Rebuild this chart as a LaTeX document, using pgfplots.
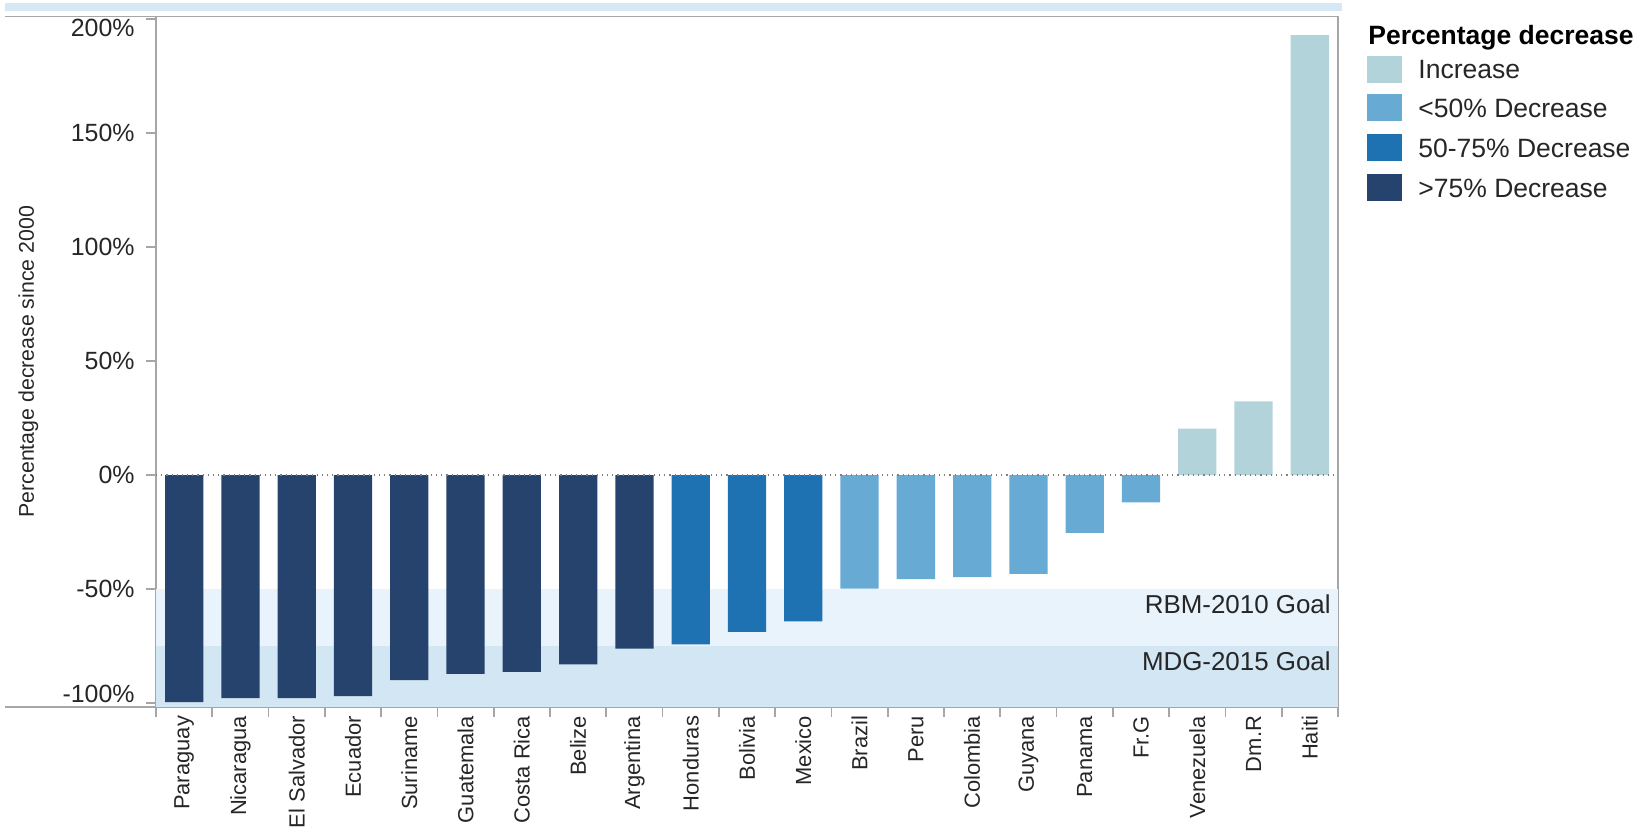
\documentclass[border=0pt]{standalone}
\usepackage{fontspec}
\setmainfont{Liberation Sans}
\usepackage{pgfplots}
\pgfplotsset{compat=1.18}

\definecolor{incr}{HTML}{B3D3DA}
\definecolor{lt50}{HTML}{67AAD4}
\definecolor{mid}{HTML}{1E72B2}
\definecolor{gt75}{HTML}{25436C}
\definecolor{rbm}{HTML}{E9F3FB}
\definecolor{mdg}{HTML}{D3E6F4}
\definecolor{head}{HTML}{D5E8F4}
\definecolor{axgray}{HTML}{A6A6A6}
\definecolor{txt}{HTML}{262626}

\begin{document}
\begin{tikzpicture}
\path[use as bounding box] (0,0) rectangle (825bp,415bp);
% strip of the cut-off header
\fill[head] (2.5bp,409.5bp) rectangle (671bp,413.5bp);
\draw[axgray, line width=0.8bp] (2.5bp,406.75bp) -- (78bp,406.75bp);
\draw[axgray, line width=0.8bp] (2.5bp,61.5bp) -- (78bp,61.5bp);

\begin{axis}[
  at={(78bp,61.5bp)}, anchor=south west,
  scale only axis, width=591bp, height=345.25bp,
  xmin=-0.5, xmax=20.5, ymin=-101.8, ymax=201.2,
  axis line style={draw=axgray, line width=0.8bp},
  tick pos=left, tick align=outside,
  major tick length=0pt, minor tick length=5bp,
  minor tick style={draw=axgray, line width=0.8bp},
  xtick={0,...,20},
  xticklabels={Paraguay,Nicaragua,El Salvador,Ecuador,Suriname,Guatemala,Costa Rica,Belize,Argentina,Honduras,Bolivia,Mexico,Brazil,Peru,Colombia,Guyana,Panama,Fr.G,Venezuela,Dm.R,Haiti},
  minor xtick={-0.5,0.5,...,20.5},
  x tick label style={rotate=90, anchor=east, inner sep=0pt, text=txt,
    font=\fontsize{11}{13}\selectfont},
  xticklabel shift=4.3bp,
  ytick={-100,-50,...,200},
  minor ytick={-100,-50,...,200},
  % the end labels sit a little inside the axis, as in the original
  yticklabel={\ifcase\ticknum
      \raisebox{4.5bp}[\height][\depth]{\pgfmathprintnumber{\tick}\%}%
    \or\pgfmathprintnumber{\tick}\%%
    \or\pgfmathprintnumber{\tick}\%%
    \or\pgfmathprintnumber{\tick}\%%
    \or\pgfmathprintnumber{\tick}\%%
    \or\pgfmathprintnumber{\tick}\%%
    \else\raisebox{-4.2bp}[\height][\depth]{\pgfmathprintnumber{\tick}\%}\fi},
  /pgf/number format/assume math mode=true,
  y tick label style={inner sep=0pt, text=txt, font=\fontsize{12.5}{14}\selectfont},
  yticklabel shift=10.5bp,
  ylabel={Percentage decrease since 2000},
  ylabel style={at={(axis description cs:-0.1079,0.5)}, anchor=center, text=txt,
    font=\fontsize{10.7}{12}\selectfont},
]
% goal bands
\fill[mdg] (axis cs:-0.5,-101.8) rectangle (axis cs:20.5,-75);
\fill[rbm] (axis cs:-0.5,-75) rectangle (axis cs:20.5,-50);
\node[anchor=east, inner sep=0pt, xshift=-3.5bp, text=txt, font=\fontsize{13}{15}\selectfont]
  at (axis cs:20.5,-56.6) {RBM-2010 Goal};
\node[anchor=east, inner sep=0pt, xshift=-3.5bp, text=txt, font=\fontsize{13}{15}\selectfont]
  at (axis cs:20.5,-81.6) {MDG-2015 Goal};

% >75% decrease
\addplot[ybar, bar width=0.68, bar shift=0pt, fill=gt75, draw=none]
  coordinates {(0,-99.7)(1,-97.9)(2,-97.9)(3,-97.0)(4,-90.0)(5,-87.3)(6,-86.4)(7,-83.1)(8,-76.2)};
% 50-75% decrease
\addplot[ybar, bar width=0.68, bar shift=0pt, fill=mid, draw=none]
  coordinates {(9,-74.3)(10,-68.8)(11,-64.2)};
% <50% decrease
\addplot[ybar, bar width=0.68, bar shift=0pt, fill=lt50, draw=none]
  coordinates {(12,-49.9)(13,-45.7)(14,-44.8)(15,-43.4)(16,-25.4)(17,-12.0)};
% increase
\addplot[ybar, bar width=0.68, bar shift=0pt, fill=incr, draw=none]
  coordinates {(18,20.3)(19,32.3)(20,193.0)};

\draw[gray, dotted, line width=0.6bp] (axis cs:-0.5,0) -- (axis cs:20.5,0);
\end{axis}

% legend
\node[anchor=west, inner sep=0pt, text=black, font=\bfseries\fontsize{13.3}{15}\selectfont]
  at (684bp,396bp) {Percentage decrease};
\fill[incr] (683.5bp,373.25bp) rectangle (701bp,386.75bp);
\fill[lt50] (683.5bp,354.25bp) rectangle (701bp,367.75bp);
\fill[mid]  (683.5bp,334.25bp) rectangle (701bp,347.75bp);
\fill[gt75] (683.5bp,314.25bp) rectangle (701bp,327.75bp);
\node[anchor=west, inner sep=0pt, text=txt, font=\fontsize{13.3}{15}\selectfont] at (709bp,380bp) {Increase};
\node[anchor=west, inner sep=0pt, text=txt, font=\fontsize{13.3}{15}\selectfont] at (709bp,361bp) {<50\% Decrease};
\node[anchor=west, inner sep=0pt, text=txt, font=\fontsize{13.3}{15}\selectfont] at (709bp,341bp) {50-75\% Decrease};
\node[anchor=west, inner sep=0pt, text=txt, font=\fontsize{13.3}{15}\selectfont] at (709bp,321bp) {>75\% Decrease};
\end{tikzpicture}
\end{document}
